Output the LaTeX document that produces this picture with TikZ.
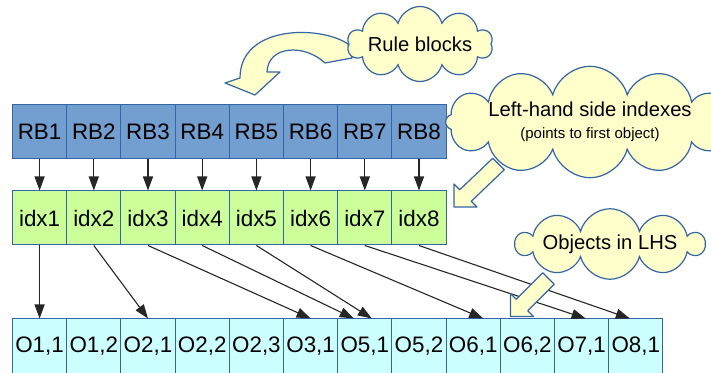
\documentclass[tikz,border=0pt]{standalone}
\usepackage{fontspec}
\setmainfont{Liberation Sans}
\usepackage{tikz}
\usetikzlibrary{arrows.meta,shapes.symbols}
\usepackage{xcolor}
\definecolor{lineblue}{RGB}{52,101,164}
\definecolor{rbfill}{RGB}{114,159,207}
\definecolor{idxfill}{RGB}{204,255,153}
\definecolor{objfill}{RGB}{204,255,255}
\definecolor{notefill}{RGB}{255,255,204}

\begin{document}
\begin{tikzpicture}[x=0.5pt,y=-0.5pt,
  cell/.style={draw=lineblue, line width=0.5pt, minimum width=27.1pt, minimum height=27pt, inner sep=0pt, font=\fontsize{11.2}{13}\selectfont},
  rbcell/.style={cell, fill=rbfill},
  idxcell/.style={cell, fill=idxfill},
  objcell/.style={cell, fill=objfill},
  link/.style={-{Triangle[length=7pt,width=5pt]}, line width=0.55pt, black!85},
  note/.style={cloud, cloud ignores aspect, draw=lineblue, fill=notefill, line width=0.6pt, inner sep=0pt, font=\fontsize{10.1}{12}\selectfont},
  hint/.style={draw=lineblue, fill=notefill, line width=0.6pt, line join=round}]
  \useasboundingbox (0,0) rectangle (711,373);

  % Rule blocks
  \node[rbcell] (rb1) at (39.6,132) {RB1};
  \node[rbcell] (rb2) at (93.8,132) {RB2};
  \node[rbcell] (rb3) at (148.0,132) {RB3};
  \node[rbcell] (rb4) at (202.2,132) {RB4};
  \node[rbcell] (rb5) at (256.4,132) {RB5};
  \node[rbcell] (rb6) at (310.6,132) {RB6};
  \node[rbcell] (rb7) at (364.8,132) {RB7};
  \node[rbcell] (rb8) at (419.0,132) {RB8};

  % LHS indexes
  \node[idxcell] (idx1) at (39.6,218) {idx1};
  \node[idxcell] (idx2) at (93.8,218) {idx2};
  \node[idxcell] (idx3) at (148.0,218) {idx3};
  \node[idxcell] (idx4) at (202.2,218) {idx4};
  \node[idxcell] (idx5) at (256.4,218) {idx5};
  \node[idxcell] (idx6) at (310.6,218) {idx6};
  \node[idxcell] (idx7) at (364.8,218) {idx7};
  \node[idxcell] (idx8) at (419.0,218) {idx8};

  % Objects
  \node[objcell] (o11) at (39.6,346) {O1,1};
  \node[objcell] (o12) at (93.8,346) {O1,2};
  \node[objcell] (o21) at (148.0,346) {O2,1};
  \node[objcell] (o22) at (202.2,346) {O2,2};
  \node[objcell] (o23) at (256.4,346) {O2,3};
  \node[objcell] (o31) at (310.6,346) {O3,1};
  \node[objcell] (o51) at (364.8,346) {O5,1};
  \node[objcell] (o52) at (419.0,346) {O5,2};
  \node[objcell] (o61) at (473.2,346) {O6,1};
  \node[objcell] (o62) at (527.4,346) {O6,2};
  \node[objcell] (o71) at (581.6,346) {O7,1};
  \node[objcell] (o81) at (635.8,346) {O8,1};

  % RB -> idx
  \draw[link] (rb1.south) -- (idx1.north);
  \draw[link] (rb2.south) -- (idx2.north);
  \draw[link] (rb3.south) -- (idx3.north);
  \draw[link] (rb4.south) -- (idx4.north);
  \draw[link] (rb5.south) -- (idx5.north);
  \draw[link] (rb6.south) -- (idx6.north);
  \draw[link] (rb7.south) -- (idx7.north);
  \draw[link] (rb8.south) -- (idx8.north);

  % idx -> first object
  \draw[link] (idx1.south) -- (o11.north);
  \draw[link] (idx2.south) -- (o21.north);
  \draw[link] (idx3.south) -- (o31.north);
  \draw[link] (idx4.south) -- ([xshift=-5.5pt]o51.north);
  \draw[link] (idx5.south) -- ([xshift=3.5pt]o51.north);
  \draw[link] (idx6.south) -- ([xshift=5pt]o61.north);
  \draw[link] (idx7.south) -- ([xshift=2pt]o71.north);
  \draw[link] (idx8.south) -- ([xshift=-3pt]o81.north);

  % callouts
  \draw[hint] (348,44) .. controls (320,25) and (240,25) .. (240,78) -- (225,83) -- (255,95)
    -- (280,72) -- (267,72) .. controls (268,45) and (305,44) .. (325,63) -- (352,58) -- cycle;
  \node[note, cloud puffs=10, minimum width=70.5pt, minimum height=37.5pt] (rbnote) at (420,44) {Rule blocks};
  \node[note, cloud puffs=12, minimum width=120pt, minimum height=48pt, align=center] (idxnote) at (590,122)
    {Left-hand side indexes\\[-1pt]{\fontsize{7.5}{9}\selectfont (points to first object)}};
  \draw[hint] (492.75,158.25) -- (504.25,169.75) -- (471.25,201.25) -- (477,207) -- (454,207)
    -- (454,184) -- (459.75,189.75) -- cycle;
  \node[note, cloud puffs=10, minimum width=84pt, minimum height=34pt] (objnote) at (610,244) {Objects in LHS};
  \draw[hint] (542.75,272.75) -- (554.25,284.25) -- (527.75,310.75) -- (533.5,316.5) -- (510.5,316.5)
    -- (510.5,293.5) -- (516.25,299.25) -- cycle;
\end{tikzpicture}
\end{document}
